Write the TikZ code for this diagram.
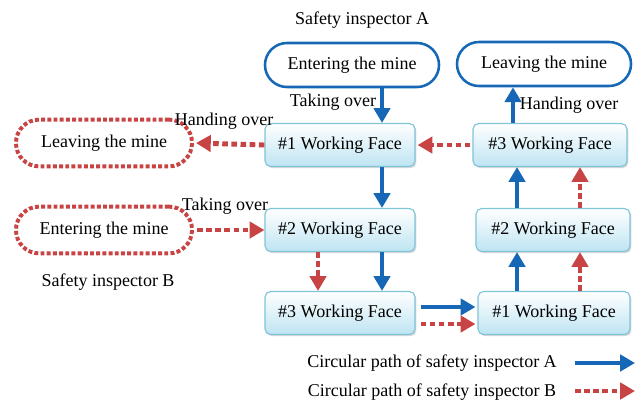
\documentclass[tikz,border=0pt]{standalone}
\usepackage{fontspec}
\setmainfont{Liberation Serif}
\usetikzlibrary{arrows.meta,shadows,calc}
\definecolor{pathA}{RGB}{22,104,182}
\definecolor{pathB}{RGB}{200,68,68}
\definecolor{faceedge}{RGB}{128,196,216}
\definecolor{facefill}{RGB}{190,228,242}

\begin{document}
\begin{tikzpicture}[x=0.025cm, y=-0.025cm, font=\fontsize{12.8}{15}\selectfont,
    face/.style={draw=faceedge, line width=0.8pt, rounded corners=4pt, top color=white, bottom color=facefill,
      minimum height=1.075cm, drop shadow={shadow xshift=1pt, shadow yshift=-1.2pt, opacity=0.3}},
    gateA/.style={draw=pathA, line width=1.8pt, rounded corners=0.55cm, minimum width=4.35cm, minimum height=1.1cm},
    gateB/.style={draw=pathB, line width=2.8pt, dash pattern=on 2.8pt off 1.6pt, rounded corners=0.58cm,
      minimum width=4.4cm, minimum height=1.17cm},
    arrA/.style={draw=pathA, line width=3.5pt, -{Triangle[length=10.5pt, width=11.5pt]}},
    arrB/.style={draw=pathB, line width=3.5pt, dash pattern=on 4pt off 2.5pt, -{Triangle[length=10.5pt, width=11.5pt]}}]
    \useasboundingbox (0,0) rectangle (642,403);

    % inspector A: enter and leave
    \node (inspA) at (362,20) {Safety inspector A};
    \node[gateA] (entA) at (352,65) {Entering the mine};
    \node[gateA] (leaveA) at (544,64) {Leaving the mine};

    % inspector B: enter and leave
    \node[gateB] (leaveB) at (104,143) {Leaving the mine};
    \node[gateB] (entB) at (104,230) {Entering the mine};
    \node (inspB) at (108,282) {Safety inspector B};

    % working faces
    \node[face, minimum width=3.75cm] (f1L) at (340,145) {\#1 Working Face};
    \node[face, minimum width=3.75cm] (f2L) at (340,230) {\#2 Working Face};
    \node[face, minimum width=3.75cm] (f3L) at (340,313) {\#3 Working Face};
    \node[face, minimum width=3.85cm] (f3R) at (550,145) {\#3 Working Face};
    \node[face, minimum width=3.85cm] (f2R) at (553,230) {\#2 Working Face};
    \node[face, minimum width=3.8cm] (f1R) at (554,313) {\#1 Working Face};

    % path of inspector A
    \draw[arrA] ($(entA.south)+(30,0)$) -- ($(f1L.north)+(42,0)$);
    \draw[arrA] ($(f1L.south)+(42,0)$) -- ($(f2L.north)+(42,0)$);
    \draw[arrA] ($(f2L.south)+(42,0)$) -- ($(f3L.north)+(42,0)$);
    \draw[arrA] ($(f3L.east)+(5,-6)$) -- ($(f1R.west)+(-2,-6)$);
    \draw[arrA] ($(f1R.north)+(-37,0)$) -- ($(f2R.south)+(-36,0)$);
    \draw[arrA] ($(f2R.north)+(-36,0)$) -- ($(f3R.south)+(-33,0)$);
    \draw[arrA] ($(f3R.north)+(-37,0)$) -- ($(leaveA.south)+(-31,0)$);

    % path of inspector B
    \draw[arrB] ($(entB.east)+(3,0)$) -- (f2L.west);
    \draw[arrB] ($(f2L.south)+(-22,0)$) -- ($(f3L.north)+(-22,0)$);
    \draw[arrB] ($(f3L.east)+(5,11)$) -- ($(f1R.west)+(-2,11)$);
    \draw[arrB] ($(f1R.north)+(26,0)$) -- ($(f2R.south)+(27,0)$);
    \draw[arrB] ($(f2R.north)+(27,0)$) -- ($(f3R.south)+(30,0)$);
    \draw[arrB] ($(f3R.west)+(-2,0)$) -- ($(f1L.east)+(2,0)$);
    \draw[arrB] (f1L.west) -- ($(leaveB.east)+(2,0)$);

    % hand-over labels
    \node (takeA) at (333,102) {Taking over};
    \node (handA) at (569,105) {Handing over};
    \node (handB) at (224,121) {Handing over};
    \node (takeB) at (225,206) {Taking over};

    % legend
    \node (legtextA) at (432,363) {Circular path of safety inspector A};
    \node (legtextB) at (432,392) {Circular path of safety inspector B};
    \coordinate (legA0) at (575,363);
    \coordinate (legA1) at (635,363);
    \coordinate (legB0) at (575,391);
    \coordinate (legB1) at (635,391);
    \draw[arrA] (legA0) -- (legA1);
    \draw[arrB] (legB0) -- (legB1);

  \end{tikzpicture}
\end{document}
